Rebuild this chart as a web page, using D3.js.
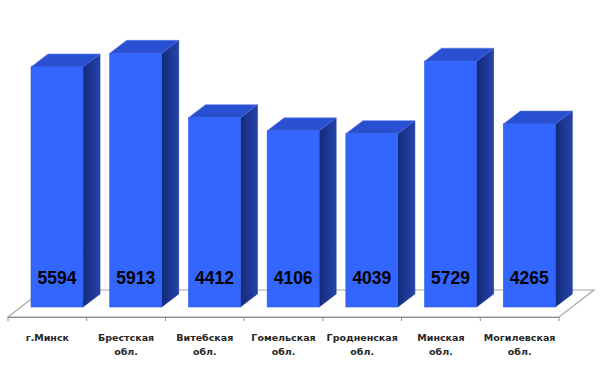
<!DOCTYPE html>
<html><head><meta charset="utf-8">
<script src="https://cdn.jsdelivr.net/npm/d3@7"></script>
<style>html,body{margin:0;padding:0;background:#fff;}svg{display:block;}</style>
</head><body>
<svg id="chart" width="600" height="366"></svg>
<script>
const categories = [["г.Минск"],["Брестская","обл."],["Витебская","обл."],["Гомельская","обл."],["Гродненская","обл."],["Минская","обл."],["Могилевская","обл."]];
const values = [5594, 5913, 4412, 4106, 4039, 5729, 4265];

const svg = d3.select("#chart");
const floorFront = 317, floorDX = 35, floorDY = -27;
const x = d3.scaleBand().domain(d3.range(categories.length)).range([8, 559]).padding(0);
const y = d3.scaleLinear().domain([0, 6000]).range([307, 49.6]);
const barW = 52, dx = 17, dy = -13, barOff = 23;

const defs = svg.append("defs");
const sg = defs.append("linearGradient").attr("id","side").attr("x1","0").attr("x2","1").attr("y1","0").attr("y2","0");
sg.append("stop").attr("offset","0").attr("stop-color","#142a78");
sg.append("stop").attr("offset","1").attr("stop-color","#2444ad");

// floor
const x0 = x.range()[0], x1 = x.range()[1];
svg.append("path")
  .attr("d", `M${x0},${floorFront}L${x1},${floorFront}L${x1+floorDX},${floorFront+floorDY}L${x0+floorDX},${floorFront+floorDY}Z`)
  .attr("fill","#fff").attr("stroke","#a6a6a6").attr("stroke-width",1.2);
svg.append("line").attr("x1",x0).attr("x2",x1).attr("y1",floorFront+0.5).attr("y2",floorFront+0.5).attr("stroke","#8c8c8c").attr("stroke-width",1);
// ticks
svg.selectAll(".tick").data(d3.range(categories.length+1)).join("line")
  .attr("x1", i => x0 + i*x.bandwidth()).attr("x2", i => x0 + i*x.bandwidth())
  .attr("y1", floorFront).attr("y2", floorFront+4)
  .attr("stroke","#8c8c8c").attr("stroke-width",1);

// bars
const g = svg.selectAll(".bar").data(values).join("g").attr("class","bar");
g.each(function(v, i){
  const gg = d3.select(this);
  const L = x(i) + barOff, R = L + barW, T = y(v), B = y(0);
  gg.append("path").attr("d",`M${R},${B}L${R},${T}L${R+dx},${T+dy}L${R+dx},${B+dy}Z`)
    .attr("fill","url(#side)").attr("stroke","#1a3391").attr("stroke-width",0.6);
  gg.append("path").attr("d",`M${L},${T}L${L+dx},${T+dy}L${R+dx},${T+dy}L${R},${T}Z`)
    .attr("fill","#2a50d2").attr("stroke","#5577ee").attr("stroke-width",0.6);
  gg.append("rect").attr("x",L).attr("y",T).attr("width",barW).attr("height",B-T)
    .attr("fill","#3366ff").attr("stroke","#2f5de6").attr("stroke-width",0.6);
  gg.append("text").attr("x",L+barW/2).attr("y",284).attr("text-anchor","middle")
    .attr("font-family","Liberation Sans, Arial, sans-serif").attr("font-weight","bold")
    .attr("font-size",17.5).attr("fill","#000").text(v);
});

// category labels
const lab = svg.selectAll(".cat").data(categories).join("text")
  .attr("text-anchor","middle")
  .attr("font-family","DejaVu Sans, sans-serif").attr("font-weight","bold")
  .attr("font-size",9.5).attr("fill","#262626");
lab.each(function(lines, i){
  const t = d3.select(this);
  lines.forEach((s, k) => {
    t.append("tspan").attr("x", x(i) + x.bandwidth()/2).attr("y", 341 + k*14).text(s);
  });
});
</script>
</body></html>
